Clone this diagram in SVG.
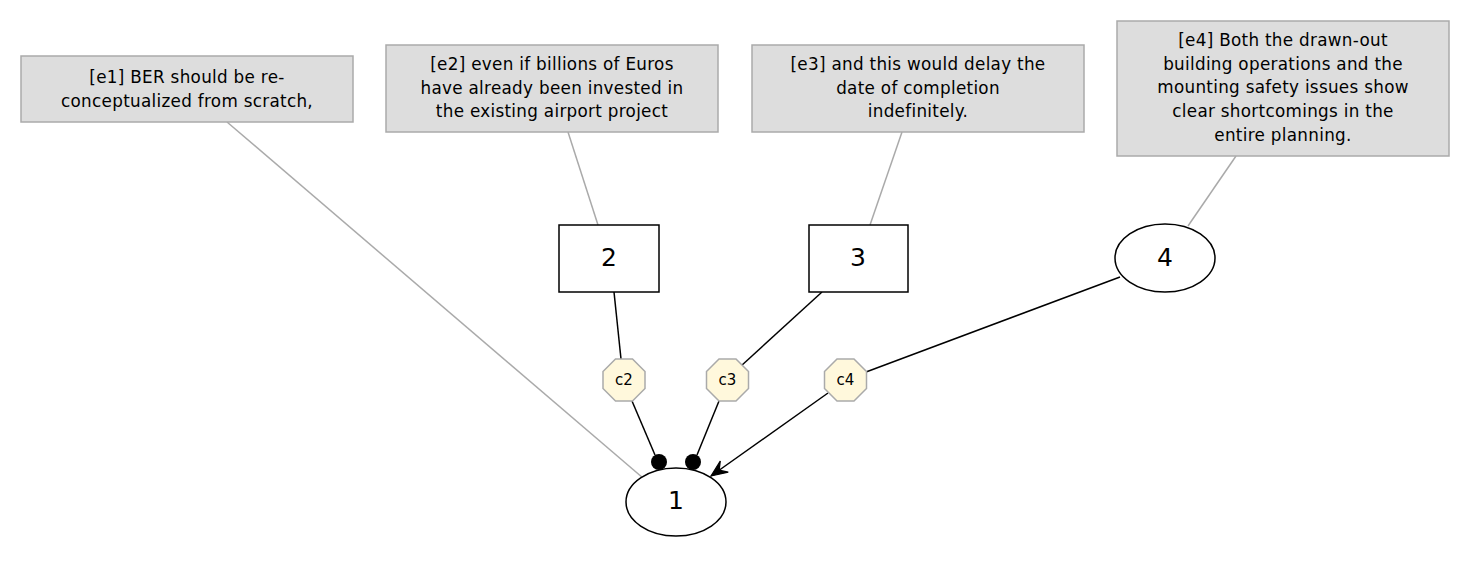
<svg xmlns="http://www.w3.org/2000/svg" width="1469" height="567" viewBox="0 0 1469 567">
<style>
.box{fill:#dddddd;stroke:#aaaaaa;stroke-width:1.5}
.bt{font-family:"DejaVu Sans",sans-serif;font-size:16.8px;letter-spacing:0.3px;fill:#000;text-anchor:middle}
.node{fill:#fff;stroke:#000;stroke-width:1.5}
.nt{font-family:"DejaVu Sans",sans-serif;font-size:25px;fill:#000;text-anchor:middle}
.oct{fill:#fff8dc;stroke:#aaaaaa;stroke-width:1.5}
.ct{font-family:"DejaVu Sans",sans-serif;font-size:15px;fill:#000;text-anchor:middle}
.gl{stroke:#aaaaaa;stroke-width:1.5;fill:none}
.bl{stroke:#000;stroke-width:1.5;fill:none}
</style>
<defs>
<marker id="vee" markerUnits="userSpaceOnUse" markerWidth="20" markerHeight="20" viewBox="-14 -7 16 14" refX="0" refY="0" orient="auto">
<path d="M0,0 L-13,-5.5 L-8,0 L-13,5.5 Z" fill="#000" stroke="#000" stroke-width="1"/>
</marker>
</defs>
<rect width="1469" height="567" fill="#fff"/>
<g id="connectors">
<line class="gl" x1="227" y1="122" x2="643" y2="478"/>
<line class="gl" x1="568" y1="132" x2="598" y2="225"/>
<line class="gl" x1="902" y1="132" x2="870" y2="225"/>
<line class="gl" x1="1236" y1="156" x2="1188" y2="226"/>
<line class="bl" x1="614" y1="292" x2="621" y2="359"/>
<line class="bl" x1="632" y1="401" x2="655" y2="455"/>
<circle cx="659" cy="462" r="8" fill="#000"/>
<line class="bl" x1="822" y1="292" x2="741" y2="366"/>
<line class="bl" x1="719" y1="401" x2="697" y2="455"/>
<circle cx="693" cy="462" r="8" fill="#000"/>
<line class="bl" x1="1120" y1="277" x2="866" y2="372"/>
<line class="bl" x1="828" y1="393" x2="711" y2="476" marker-end="url(#vee)"/>
</g>
<g id="e1"><rect class="box" x="21" y="56" width="332" height="66"/>
<text class="bt" x="187" y="83">[e1] BER should be re-</text>
<text class="bt" x="187" y="107">conceptualized from scratch,</text></g>
<g id="e2"><rect class="box" x="386" y="45" width="332" height="87"/>
<text class="bt" x="552" y="70">[e2] even if billions of Euros</text>
<text class="bt" x="552" y="94">have already been invested in</text>
<text class="bt" x="552" y="117">the existing airport project</text></g>
<g id="e3"><rect class="box" x="752" y="45" width="332" height="87"/>
<text class="bt" x="918" y="70">[e3] and this would delay the</text>
<text class="bt" x="918" y="94">date of completion</text>
<text class="bt" x="918" y="117">indefinitely.</text></g>
<g id="e4"><rect class="box" x="1117" y="21" width="332" height="135"/>
<text class="bt" x="1283" y="46">[e4] Both the drawn-out</text>
<text class="bt" x="1283" y="70">building operations and the</text>
<text class="bt" x="1283" y="93">mounting safety issues show</text>
<text class="bt" x="1283" y="117">clear shortcomings in the</text>
<text class="bt" x="1283" y="141">entire planning.</text></g>
<g id="n2"><rect class="node" x="559" y="225" width="100" height="67"/>
<text class="nt" x="609" y="266">2</text></g>
<g id="n3"><rect class="node" x="809" y="225" width="99" height="67"/>
<text class="nt" x="858" y="266">3</text></g>
<g id="n4"><ellipse class="node" cx="1165" cy="258" rx="50" ry="34"/>
<text class="nt" x="1165" y="266">4</text></g>
<g id="n1"><ellipse class="node" cx="676" cy="502" rx="50" ry="34"/>
<text class="nt" x="676" y="509">1</text></g>
<g id="c2"><polygon class="oct" points="615.5,359 632.5,359 645,371.5 645,388.5 632.5,401 615.5,401 603,388.5 603,371.5"/>
<text class="ct" x="624" y="385">c2</text></g>
<g id="c3"><polygon class="oct" points="719,359 736,359 748.5,371.5 748.5,388.5 736,401 719,401 706.5,388.5 706.5,371.5"/>
<text class="ct" x="727.5" y="385">c3</text></g>
<g id="c4"><polygon class="oct" points="837,359 854,359 866.5,371.5 866.5,388.5 854,401 837,401 824.5,388.5 824.5,371.5"/>
<text class="ct" x="845.5" y="385">c4</text></g>
</svg>
